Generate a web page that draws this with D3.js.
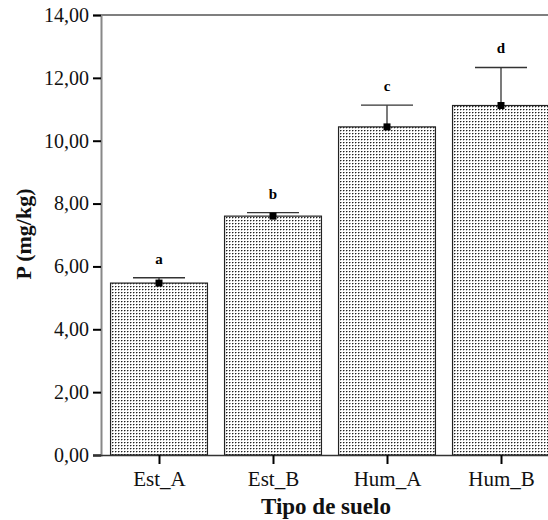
<!DOCTYPE html>
<html><head><meta charset="utf-8">
<script src="https://cdn.jsdelivr.net/npm/d3@7/dist/d3.min.js"></script>
<style>body{margin:0;background:#fff}svg{display:block}</style>
</head><body>
<script>
const categories = ["Est_A","Est_B","Hum_A","Hum_B"];
const means = [5.47, 7.60, 10.44, 11.12];
const upper = [5.64, 7.71, 11.13, 12.33];
const letters = ["a","b","c","d"];
const yTicks = [0,2,4,6,8,10,12,14];

const W=548,H=520;
const svg=d3.select("body").append("svg").attr("width",W).attr("height",H);
const defs=svg.append("defs");
const pat=defs.append("pattern").attr("id","dots").attr("patternUnits","userSpaceOnUse").attr("width",3).attr("height",3);
pat.append("rect").attr("width",3).attr("height",3).attr("fill","#fff");
pat.append("rect").attr("x",1).attr("y",1).attr("width",1).attr("height",1).attr("fill","#222");
pat.append("rect").attr("x",2).attr("y",1).attr("width",1).attr("height",1).attr("fill","#999");
pat.append("rect").attr("x",1).attr("y",2).attr("width",1).attr("height",1).attr("fill","#bbb");

const x=d3.scalePoint().domain(categories).range([102,558]).padding(0.5);
const step=x.step(), bw=step*0.85;
const y=d3.scaleLinear().domain([0,14]).range([455,15]);
const serif='"Liberation Serif","Times New Roman",serif';

// top frame line
svg.append("line").attr("x1",101).attr("x2",W).attr("y1",y(14)).attr("y2",y(14)).attr("stroke","#555").attr("stroke-width",1.5);

// bars
svg.selectAll("rect.bar").data(categories).join("rect").attr("class","bar")
 .attr("x",d=>x(d)-bw/2).attr("width",bw)
 .attr("y",(d,i)=>y(means[i])).attr("height",(d,i)=>y(0)-y(means[i]))
 .attr("fill","url(#dots)").attr("stroke","#222").attr("stroke-width",1.2);

// error bars
const eg=svg.append("g").attr("stroke","#333").attr("stroke-width",1.3);
categories.forEach((c,i)=>{
  eg.append("line").attr("x1",x(c)).attr("x2",x(c)).attr("y1",y(means[i])).attr("y2",y(upper[i]));
  eg.append("line").attr("x1",x(c)-26).attr("x2",x(c)+26).attr("y1",y(upper[i])).attr("y2",y(upper[i]));
});
// markers
svg.selectAll("rect.mk").data(categories).join("rect").attr("class","mk")
 .attr("x",d=>x(d)-3.5).attr("y",(d,i)=>y(means[i])-3.5).attr("width",7).attr("height",7).attr("fill","#000");
// letters
svg.selectAll("text.lt").data(categories).join("text").attr("class","lt")
 .attr("x",d=>x(d)).attr("y",(d,i)=>y(upper[i])-14).attr("text-anchor","middle")
 .attr("font-family",serif).attr("font-weight","bold").attr("font-size",15).text((d,i)=>letters[i]);

// y axis
const ya=svg.append("g").attr("transform","translate(101,0)")
 .call(d3.axisLeft(y).tickValues(yTicks).tickSize(8).tickPadding(4).tickFormat(d=>d.toFixed(2).replace(".",",")));
ya.select(".domain").attr("stroke","#888").attr("stroke-width",2);
ya.selectAll(".tick line").attr("stroke","#000").attr("stroke-width",2);
ya.selectAll(".tick text").attr("font-family",serif).attr("font-size",20).attr("fill","#111");

// x axis
const xa=svg.append("g").attr("transform","translate(0,455)")
 .call(d3.axisBottom(x).tickSize(9).tickPadding(7).tickSizeOuter(0));
xa.select(".domain").attr("stroke","#333").attr("stroke-width",1.5).attr("d",`M93,0.5H${W}`);
xa.selectAll(".tick line").attr("stroke","#000").attr("stroke-width",2);
xa.selectAll(".tick text").attr("font-family",serif).attr("font-size",21).attr("fill","#111");

// axis titles
svg.append("text").attr("x",326).attr("y",514).attr("text-anchor","middle")
 .attr("font-family",serif).attr("font-weight","bold").attr("font-size",23).attr("fill","#111").text("Tipo de suelo");
svg.append("text").attr("transform","translate(31,234) rotate(-90)").attr("text-anchor","middle")
 .attr("font-family",serif).attr("font-weight","bold").attr("font-size",22).attr("fill","#111").text("P (mg/kg)");
</script>
</body></html>
